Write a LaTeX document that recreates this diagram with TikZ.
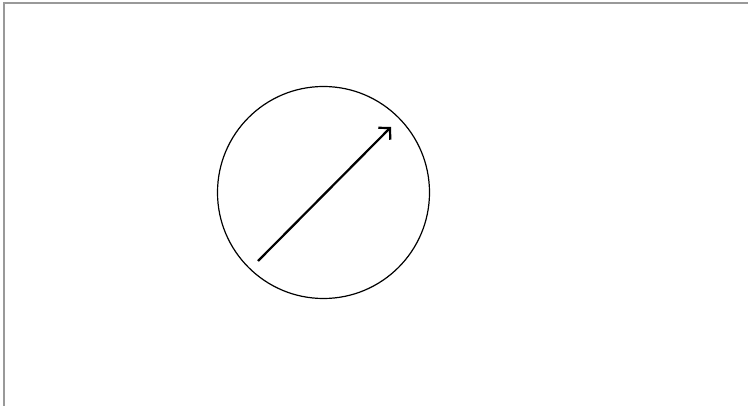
\documentclass[tikz,border=0pt]{standalone}
\usetikzlibrary{arrows.meta}

\begin{document}
\begin{tikzpicture}[
  x=1pt,y=-1pt,
  >={Straight Barb[length=8pt,width=17pt]},
  cadre/.style={draw=gray!80,line width=1.2pt},
  cercle/.style={circle,draw,line width=1.2pt,minimum size=212pt,inner sep=0pt},
  vect/.style={line width=2.2pt,->},
]
  % Cadre de la page
  \useasboundingbox (0,0) rectangle (748,406);
  \draw[cadre] (4,406) -- (4,3) -- (748,3);

  % Cercle
  \node[cercle] (C) at (323.5,192.5) {};

  % Vecteur
  \coordinate (A) at (258,261);
  \coordinate (B) at (391,127);
  \draw[vect] (A) -- (B);
\end{tikzpicture}
\end{document}
